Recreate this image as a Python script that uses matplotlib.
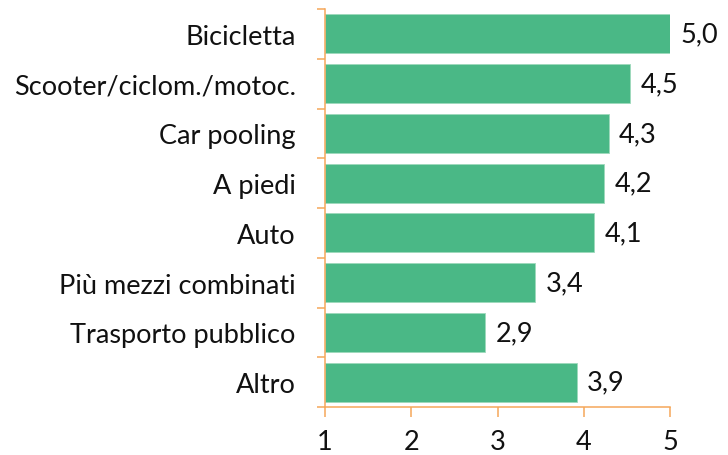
import matplotlib
matplotlib.use("Agg")
import matplotlib.pyplot as plt
import numpy as np

categories = ["Bicicletta", "Scooter/ciclom./motoc.", "Car pooling", "A piedi",
              "Auto", "Più mezzi combinati", "Trasporto pubblico", "Altro"]
values = [5.0, 4.54, 4.29, 4.24, 4.12, 3.44, 2.86, 3.92]
xticks = [1, 2, 3, 4, 5]

plt.rcParams['font.family'] = ['Lato', 'DejaVu Sans']
green = '#4AB886'
orange = '#F5A75A'
txt = '#111111'
fs = 19.5

fig = plt.figure(figsize=(7.28, 4.56), dpi=100)
ax = fig.add_axes([325/728, 1-408/456, (670-325)/728, (408-10)/456])

n = len(categories)
y = np.arange(n)
base = 1
ax.barh(y, [v - base for v in values], left=base, height=0.78, color=green,
        edgecolor='#9ED9BC', linewidth=0.6)
for yi, v in zip(y, values):
    ax.text(v + 0.12, yi, f"{v:.1f}".replace('.', ','), va='center', ha='left',
            fontsize=fs, color=txt)

ax.set_xlim(1, 5)
ax.set_ylim(n - 0.5, -0.5)
ax.set_xticks(xticks)
ax.set_xticklabels([str(t) for t in xticks], fontsize=fs, color=txt)
ax.set_yticks(y)
ax.set_yticklabels(categories, fontsize=fs, color=txt)
ax.set_yticks(np.arange(-0.5, n, 1), minor=True)
ax.tick_params(axis='y', which='major', length=0, pad=21)
ax.tick_params(axis='y', which='minor', length=6, color=orange, width=1.1)
ax.tick_params(axis='x', which='major', length=7, color=orange, width=1.1, pad=9)

for s in ['top', 'right']:
    ax.spines[s].set_visible(False)
for s in ['left', 'bottom']:
    ax.spines[s].set_color(orange)
    ax.spines[s].set_linewidth(1.1)

fig.savefig('out.png', dpi=100)
